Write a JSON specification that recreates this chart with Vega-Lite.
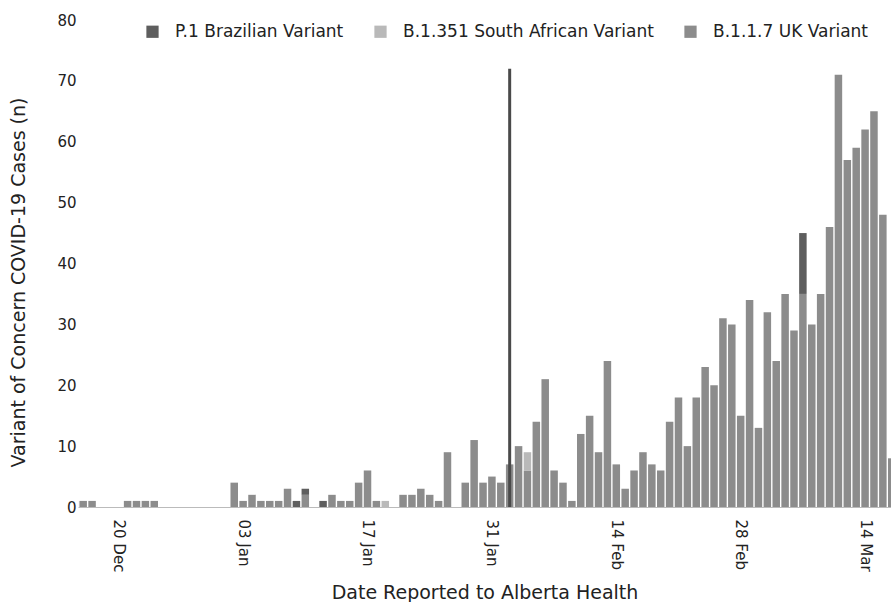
{
  "$schema": "https://vega.github.io/schema/vega-lite/v6.json",
  "width": 813,
  "height": 487,
  "autosize": {"type": "none"},
  "padding": {"left": 78, "top": 20, "right": 0, "bottom": 95},
  "background": "white",
  "config": {"view": {"stroke": null}, "font": "DejaVu Sans", "axis": {"labelColor": "#222", "titleColor": "#222", "titleFontWeight": "normal"}},
  "layer": [
    {
      "data": {
        "format": {"parse": {"date": "date:'%Y-%m-%d'"}},
        "values": [
          {"date": "2020-12-15", "variant": "B.1.1.7 UK Variant", "n": 1},
          {"date": "2020-12-16", "variant": "B.1.1.7 UK Variant", "n": 1},
          {"date": "2020-12-17", "variant": "B.1.1.7 UK Variant", "n": 1},
          {"date": "2020-12-21", "variant": "B.1.1.7 UK Variant", "n": 1},
          {"date": "2020-12-22", "variant": "B.1.1.7 UK Variant", "n": 1},
          {"date": "2020-12-23", "variant": "B.1.1.7 UK Variant", "n": 1},
          {"date": "2020-12-24", "variant": "B.1.1.7 UK Variant", "n": 1},
          {"date": "2021-01-02", "variant": "B.1.1.7 UK Variant", "n": 4},
          {"date": "2021-01-03", "variant": "B.1.1.7 UK Variant", "n": 1},
          {"date": "2021-01-04", "variant": "B.1.1.7 UK Variant", "n": 2},
          {"date": "2021-01-05", "variant": "B.1.1.7 UK Variant", "n": 1},
          {"date": "2021-01-06", "variant": "B.1.1.7 UK Variant", "n": 1},
          {"date": "2021-01-07", "variant": "B.1.1.7 UK Variant", "n": 1},
          {"date": "2021-01-08", "variant": "B.1.1.7 UK Variant", "n": 3},
          {"date": "2021-01-09", "variant": "P.1 Brazilian Variant", "n": 1},
          {"date": "2021-01-10", "variant": "B.1.1.7 UK Variant", "n": 2},
          {"date": "2021-01-10", "variant": "P.1 Brazilian Variant", "n": 1},
          {"date": "2021-01-12", "variant": "P.1 Brazilian Variant", "n": 1},
          {"date": "2021-01-13", "variant": "B.1.1.7 UK Variant", "n": 2},
          {"date": "2021-01-14", "variant": "B.1.1.7 UK Variant", "n": 1},
          {"date": "2021-01-15", "variant": "B.1.1.7 UK Variant", "n": 1},
          {"date": "2021-01-16", "variant": "B.1.1.7 UK Variant", "n": 4},
          {"date": "2021-01-17", "variant": "B.1.1.7 UK Variant", "n": 6},
          {"date": "2021-01-18", "variant": "B.1.1.7 UK Variant", "n": 1},
          {"date": "2021-01-19", "variant": "B.1.351 South African Variant", "n": 1},
          {"date": "2021-01-21", "variant": "B.1.1.7 UK Variant", "n": 2},
          {"date": "2021-01-22", "variant": "B.1.1.7 UK Variant", "n": 2},
          {"date": "2021-01-23", "variant": "B.1.1.7 UK Variant", "n": 3},
          {"date": "2021-01-24", "variant": "B.1.1.7 UK Variant", "n": 2},
          {"date": "2021-01-25", "variant": "B.1.1.7 UK Variant", "n": 1},
          {"date": "2021-01-26", "variant": "B.1.1.7 UK Variant", "n": 9},
          {"date": "2021-01-28", "variant": "B.1.1.7 UK Variant", "n": 4},
          {"date": "2021-01-29", "variant": "B.1.1.7 UK Variant", "n": 11},
          {"date": "2021-01-30", "variant": "B.1.1.7 UK Variant", "n": 4},
          {"date": "2021-01-31", "variant": "B.1.1.7 UK Variant", "n": 5},
          {"date": "2021-02-01", "variant": "B.1.1.7 UK Variant", "n": 4},
          {"date": "2021-02-02", "variant": "B.1.1.7 UK Variant", "n": 7},
          {"date": "2021-02-03", "variant": "B.1.1.7 UK Variant", "n": 10},
          {"date": "2021-02-04", "variant": "B.1.1.7 UK Variant", "n": 6},
          {"date": "2021-02-04", "variant": "B.1.351 South African Variant", "n": 3},
          {"date": "2021-02-05", "variant": "B.1.1.7 UK Variant", "n": 14},
          {"date": "2021-02-06", "variant": "B.1.1.7 UK Variant", "n": 21},
          {"date": "2021-02-07", "variant": "B.1.1.7 UK Variant", "n": 6},
          {"date": "2021-02-08", "variant": "B.1.1.7 UK Variant", "n": 4},
          {"date": "2021-02-09", "variant": "B.1.1.7 UK Variant", "n": 1},
          {"date": "2021-02-10", "variant": "B.1.1.7 UK Variant", "n": 12},
          {"date": "2021-02-11", "variant": "B.1.1.7 UK Variant", "n": 15},
          {"date": "2021-02-12", "variant": "B.1.1.7 UK Variant", "n": 9},
          {"date": "2021-02-13", "variant": "B.1.1.7 UK Variant", "n": 24},
          {"date": "2021-02-14", "variant": "B.1.1.7 UK Variant", "n": 7},
          {"date": "2021-02-15", "variant": "B.1.1.7 UK Variant", "n": 3},
          {"date": "2021-02-16", "variant": "B.1.1.7 UK Variant", "n": 6},
          {"date": "2021-02-17", "variant": "B.1.1.7 UK Variant", "n": 9},
          {"date": "2021-02-18", "variant": "B.1.1.7 UK Variant", "n": 7},
          {"date": "2021-02-19", "variant": "B.1.1.7 UK Variant", "n": 6},
          {"date": "2021-02-20", "variant": "B.1.1.7 UK Variant", "n": 14},
          {"date": "2021-02-21", "variant": "B.1.1.7 UK Variant", "n": 18},
          {"date": "2021-02-22", "variant": "B.1.1.7 UK Variant", "n": 10},
          {"date": "2021-02-23", "variant": "B.1.1.7 UK Variant", "n": 18},
          {"date": "2021-02-24", "variant": "B.1.1.7 UK Variant", "n": 23},
          {"date": "2021-02-25", "variant": "B.1.1.7 UK Variant", "n": 20},
          {"date": "2021-02-26", "variant": "B.1.1.7 UK Variant", "n": 31},
          {"date": "2021-02-27", "variant": "B.1.1.7 UK Variant", "n": 30},
          {"date": "2021-02-28", "variant": "B.1.1.7 UK Variant", "n": 15},
          {"date": "2021-03-01", "variant": "B.1.1.7 UK Variant", "n": 34},
          {"date": "2021-03-02", "variant": "B.1.1.7 UK Variant", "n": 13},
          {"date": "2021-03-03", "variant": "B.1.1.7 UK Variant", "n": 32},
          {"date": "2021-03-04", "variant": "B.1.1.7 UK Variant", "n": 24},
          {"date": "2021-03-05", "variant": "B.1.1.7 UK Variant", "n": 35},
          {"date": "2021-03-06", "variant": "B.1.1.7 UK Variant", "n": 29},
          {"date": "2021-03-07", "variant": "B.1.1.7 UK Variant", "n": 35},
          {"date": "2021-03-07", "variant": "P.1 Brazilian Variant", "n": 10},
          {"date": "2021-03-08", "variant": "B.1.1.7 UK Variant", "n": 30},
          {"date": "2021-03-09", "variant": "B.1.1.7 UK Variant", "n": 35},
          {"date": "2021-03-10", "variant": "B.1.1.7 UK Variant", "n": 46},
          {"date": "2021-03-11", "variant": "B.1.1.7 UK Variant", "n": 71},
          {"date": "2021-03-12", "variant": "B.1.1.7 UK Variant", "n": 57},
          {"date": "2021-03-13", "variant": "B.1.1.7 UK Variant", "n": 59},
          {"date": "2021-03-14", "variant": "B.1.1.7 UK Variant", "n": 62},
          {"date": "2021-03-15", "variant": "B.1.1.7 UK Variant", "n": 65},
          {"date": "2021-03-16", "variant": "B.1.1.7 UK Variant", "n": 48},
          {"date": "2021-03-17", "variant": "B.1.1.7 UK Variant", "n": 8}
        ]
      },
      "mark": {"type": "bar", "size": 7.5, "clip": true},
      "encoding": {
        "x": {
          "field": "date",
          "type": "temporal",
          "scale": {"nice": false, "padding": 0, "domain": [{"year": 2020, "month": 12, "date": 15, "hours": 10}, {"year": 2021, "month": 3, "date": 16, "hours": 22}]},
          "axis": {
            "values": [
              {"year": 2020, "month": 12, "date": 20},
              {"year": 2021, "month": 1, "date": 3},
              {"year": 2021, "month": 1, "date": 17},
              {"year": 2021, "month": 1, "date": 31},
              {"year": 2021, "month": 2, "date": 14},
              {"year": 2021, "month": 2, "date": 28},
              {"year": 2021, "month": 3, "date": 14}
            ],
            "format": "%d %b",
            "labelAngle": 90,
            "labelFontSize": 15,
            "labelPadding": 12,
            "labelFlush": false,
            "labelOverlap": false,
            "ticks": false,
            "grid": false,
            "domain": true,
            "domainColor": "#bbbbbb",
            "title": "Date Reported to Alberta Health",
            "titleFontSize": 19,
            "titlePadding": 12
          }
        },
        "y": {
          "field": "n",
          "type": "quantitative",
          "stack": "zero",
          "scale": {"domain": [0, 80], "nice": false},
          "axis": {
            "values": [0, 10, 20, 30, 40, 50, 60, 70, 80],
            "labelFontSize": 15,
            "labelPadding": 2,
            "ticks": false,
            "domain": false,
            "grid": false,
            "title": "Variant of Concern COVID-19 Cases (n)",
            "titleFontSize": 19,
            "titlePadding": 28,
            "titleY": 262
          }
        },
        "color": {
          "field": "variant",
          "type": "nominal",
          "scale": {
            "domain": ["P.1 Brazilian Variant", "B.1.351 South African Variant", "B.1.1.7 UK Variant"],
            "range": ["#5e5e5e", "#b9b9b9", "#8c8c8c"]
          },
          "legend": {
            "orient": "none",
            "legendX": 66,
            "legendY": 3,
            "direction": "horizontal",
            "title": null,
            "symbolType": "square",
            "symbolSize": 150,
            "symbolStrokeWidth": 0,
            "symbolOpacity": 1,
            "labelFontSize": 17,
            "labelColor": "#222",
            "labelOffset": 14,
            "columnPadding": 28,
            "padding": 0,
            "labelLimit": 400
          }
        },
        "order": {"field": "variant", "sort": "ascending"}
      }
    },
    {
      "data": {
        "format": {"parse": {"date": "date:'%Y-%m-%d'"}},
        "values": [{"date": "2021-02-02", "n": 72}]
      },
      "mark": {"type": "rule", "color": "#4a4a4a", "strokeWidth": 3},
      "encoding": {
        "x": {"field": "date", "type": "temporal"},
        "y": {"field": "n", "type": "quantitative"},
        "y2": {"datum": 0}
      }
    }
  ]
}
